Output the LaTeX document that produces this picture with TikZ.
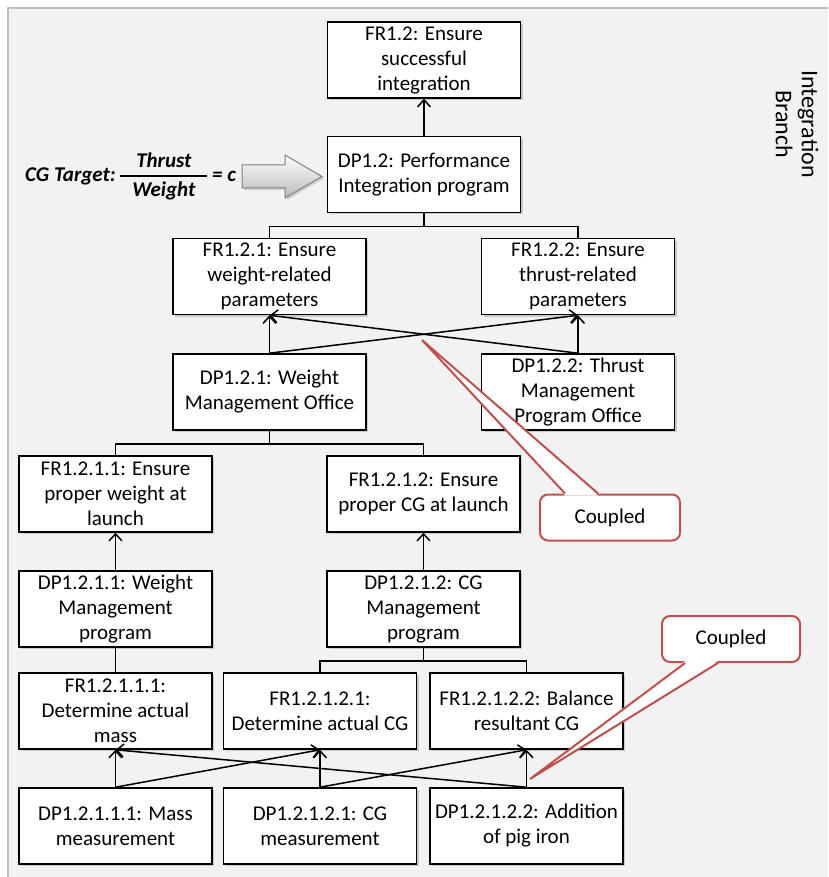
\documentclass[tikz,border=0pt]{standalone}
\usepackage{amsmath}
\usepackage{fontspec}
\setmainfont{Carlito}
\usetikzlibrary{arrows.meta, shadows}

\definecolor{panelgray}{HTML}{F2F2F2}
\definecolor{panelline}{HTML}{BFBFBF}
\definecolor{calloutred}{HTML}{C0504D}

\tikzset{
  adbox/.style={draw, fill=white, line width=1.6pt, minimum width=193pt, minimum height=76pt,
    inner xsep=2pt, inner ysep=0pt, align=center,
    font=\fontsize{21}{25}\selectfont,
    drop shadow={shadow xshift=2pt, shadow yshift=-2pt, opacity=.35}},
  link/.style={line width=1.5pt},
  uplink/.style={link, -{Straight Barb[length=7pt,width=13pt]}},
  calloutbox/.style={draw=calloutred, line width=2pt, fill=white, rounded corners=8pt,
    minimum height=46pt, font=\fontsize{21}{25}\selectfont},
}

\begin{document}
\begin{tikzpicture}[x=1pt, y=-1pt]
\useasboundingbox (0,0) rectangle (828,877);

% panel
\fill[panelgray] (8,8) rectangle (828,877);
\draw[panelline, line width=1.5pt] (8,877) -- (8,8) -- (828,8);

% integration branch
\node[adbox] (fr12) at (424,60) {FR1.2: Ensure\\successful\\integration};
\node[adbox] (dp12) at (424,174.5) {DP1.2: Performance\\Integration program};

\node[adbox] (fr121) at (269.5,276.5) {FR1.2.1: Ensure\\weight-related\\parameters};
\node[adbox] (fr122) at (578,276.5) {FR1.2.2: Ensure\\thrust-related\\parameters};
\node[adbox] (dp121) at (269.5,392) {DP1.2.1: Weight\\Management Office};
\node[adbox] (dp122) at (578,392) {DP1.2.2: Thrust\\Management\\Program Office};

\node[adbox] (fr1211) at (115.5,494) {FR1.2.1.1: Ensure\\proper weight at\\launch};
\node[adbox] (fr1212) at (423.5,494) {FR1.2.1.2: Ensure\\proper CG at launch};
\node[adbox] (dp1211) at (115.5,609) {DP1.2.1.1: Weight\\Management\\program};
\node[adbox] (dp1212) at (423.5,609) {DP1.2.1.2: CG\\Management\\program};

\node[adbox] (fr12111) at (115.5,711) {FR1.2.1.1.1:\\Determine actual\\mass};
\node[adbox] (fr12121) at (320,711) {FR1.2.1.2.1:\\Determine actual CG};
\node[adbox] (fr12122) at (526.5,711) {FR1.2.1.2.2: Balance\\resultant CG};
\node[adbox] (dp12111) at (115.5,826) {DP1.2.1.1.1: Mass\\measurement};
\node[adbox] (dp12121) at (320,826) {DP1.2.1.2.1: CG\\measurement};
\node[adbox] (dp12122) at (526.5,826) {DP1.2.1.2.2: Addition\\of pig iron};

% side label
\node[rotate=-90, align=center, font=\fontsize{24}{26}\selectfont] (branch) at (797,124) {Integration\\Branch};

% CG target
\node[anchor=west, inner sep=0pt, font=\fontsize{21}{25}\selectfont\bfseries\itshape] (target) at (25,176)
  {CG Target:\,$\genfrac{}{}{1.6pt}{0}{\text{\bfseries\itshape\hspace{12pt}Thrust\hspace{12pt}}}{\text{\bfseries\itshape\hspace{12pt}Weight\hspace{12pt}}}$\,= c};
\draw[draw=gray, line width=1pt, top color=white, bottom color=gray!55, drop shadow={shadow xshift=2pt, shadow yshift=-2pt, opacity=.3}]
  (242,165) -- (285,165) -- (285,155) -- (322,176.5) -- (285,198) -- (285,188) -- (242,188) -- cycle;

% decomposition
\draw[uplink] (dp12) -- (fr12);
\draw[link] (dp12.south) -- ++(0,13) -| (fr121.north);
\draw[link] (dp12.south) -- ++(0,13) -| (fr122.north);
\draw[uplink] (dp121) -- (fr121);
\draw[uplink] (dp122) -- (fr122);
\draw[uplink] (dp121.north) -- (fr122.south);
\draw[uplink] (dp122.north) -- (fr121.south);

\draw[link] (dp121.south) -- ++(0,13) -| (fr1211.north);
\draw[link] (dp121.south) -- ++(0,13) -| (fr1212.north);
\draw[uplink] (dp1211) -- (fr1211);
\draw[uplink] (dp1212) -- (fr1212);

\draw[link] (dp1211) -- (fr12111);
\draw[link] (dp1212.south) -- ++(0,13) -| (fr12121.north);
\draw[link] (dp1212.south) -- ++(0,13) -| (fr12122.north);
\foreach \dp/\fr in {dp12111/fr12111, dp12111/fr12121, dp12121/fr12121,
                     dp12121/fr12122, dp12122/fr12122, dp12122/fr12111}
  \draw[uplink] (\dp.north) -- (\fr.south);

% callouts
\node[calloutbox, minimum width=140pt] (coupled1) at (610,517.5) {Coupled};
\coordinate (coupled1tip) at (422,340);
\fill[white] ([xshift=-45pt,yshift=-2pt]coupled1.north) -- (coupled1tip) -- ([xshift=-12pt,yshift=-2pt]coupled1.north) -- cycle;
\draw[calloutred, line width=2pt] ([xshift=-45pt]coupled1.north) -- (coupled1tip) -- ([xshift=-12pt]coupled1.north);

\node[calloutbox, minimum width=138pt] (coupled2) at (731,639) {Coupled};
\coordinate (coupled2tip) at (530,779);
\fill[white] ([xshift=-46pt,yshift=2pt]coupled2.south) -- (coupled2tip) -- ([xshift=-13pt,yshift=2pt]coupled2.south) -- cycle;
\draw[calloutred, line width=2pt] ([xshift=-46pt]coupled2.south) -- (coupled2tip) -- ([xshift=-13pt]coupled2.south);

\end{tikzpicture}
\end{document}
